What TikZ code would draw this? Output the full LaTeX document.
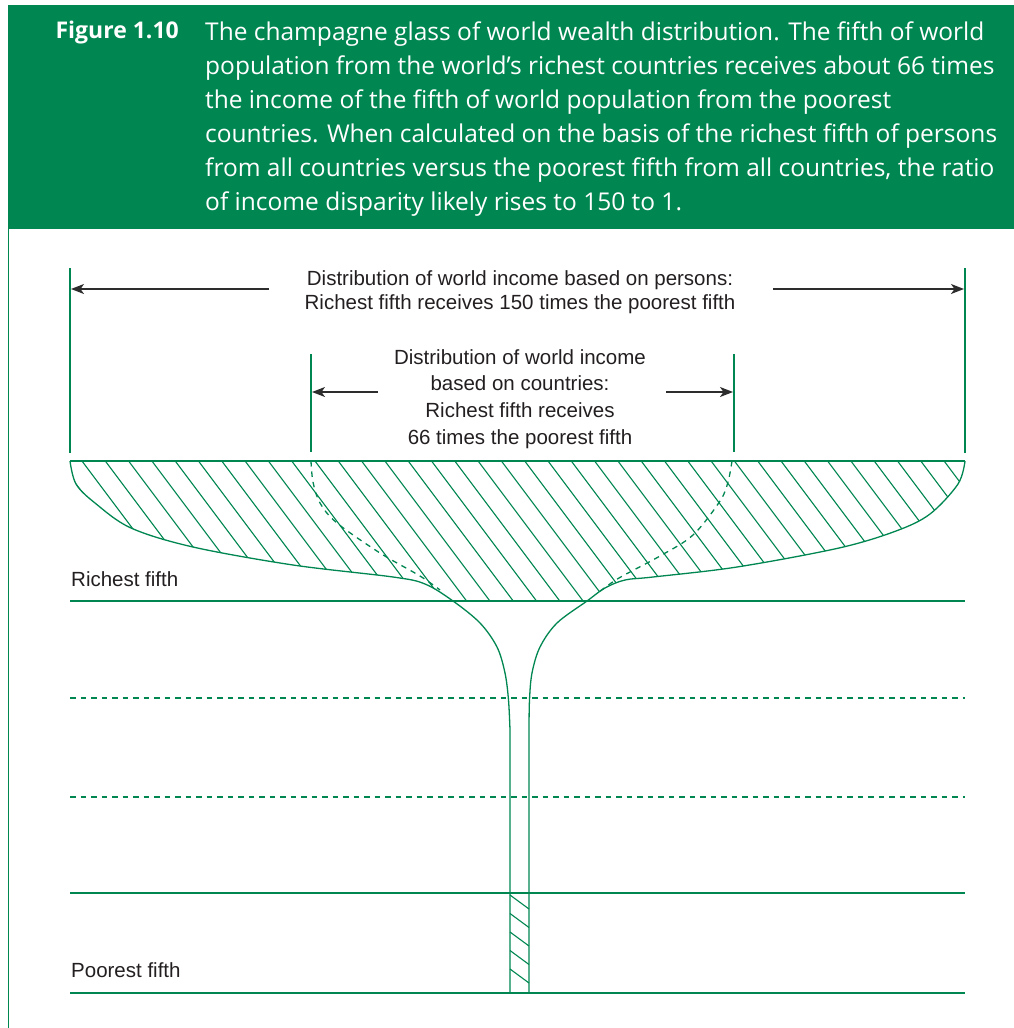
\documentclass[tikz,border=0pt]{standalone}
\usepackage{fontspec}
\setmainfont{Liberation Sans}
\newfontfamily\headfont{Open Sans}
\usetikzlibrary{arrows.meta}
\definecolor{fgreen}{RGB}{0,134,81}
\definecolor{txtgray}{RGB}{35,31,32}
\definecolor{arrgray}{RGB}{45,45,45}
\begin{document}
\begin{tikzpicture}[x=1pt,y=-1pt,
  gline/.style={draw=fgreen,line width=1.3pt},
  hatchline/.style={draw=fgreen,line width=1.1pt},
  dashline/.style={draw=fgreen,line width=1.3pt,dash pattern=on 5.5pt off 5pt},
  marker/.style={draw=fgreen,line width=1.3pt},
  dimarrow/.style={draw=arrgray,line width=1.4pt,-{Stealth[length=13pt,width=10pt,inset=3.5pt]}},
  lbl/.style={text=txtgray,font=\fontsize{20.5}{24}\selectfont,inner sep=0pt},
  headtxt/.style={text=white,inner sep=0pt,align=left}
]
\useasboundingbox (0,0) rectangle (1014,1028);
% header
\fill[fgreen] (8,5) rectangle (1014,229);
\draw[fgreen,line width=1.3pt] (8.6,229) -- (8.6,1028);
\node[headtxt,anchor=north east,font=\headfont\bfseries\fontsize{23}{34}\selectfont] (fignum) at (179,21) {Figure 1.10};
\node[headtxt,anchor=north west,font=\headfont\fontsize{24.5}{34}\selectfont] (caption) at (205,21.5)
 {The champagne glass of world wealth distribution. The fifth of world\\
  population from the world’s richest countries receives about 66 times\\
  the income of the fifth of world population from the poorest\\
  countries. When calculated on the basis of the richest fifth of persons\\
  from all countries versus the poorest fifth from all countries, the ratio\\
  of income disparity likely rises to 150 to 1.};
% hatching of the bowl
\begin{scope}
\clip (70,461) -- (965,461) -- plot[smooth,tension=0.55] coordinates {(965,461) (958,484) (930,514) (896,531) (839,548) (737,567) (653,577) (625,580) (605,588) (587,601)} -- (453,601) -- plot[smooth,tension=0.55] coordinates {(453,601) (425,584) (393,577) (293,565) (193,547) (131,528) (95,503) (76,484) (70,461)} -- cycle;
\foreach \i in {-8,...,42} {\draw[hatchline] ({82+23.3*\i},461) -- ++(150,200);}
\end{scope}
% stem hatching
\foreach \yy in {895,913.5,932,950.5,969} {\draw[hatchline] (510,\yy) -- (529,\yy+14);}
% horizontal lines
\coordinate (r1) at (70,601); \coordinate (r2) at (965,601);
\coordinate (d1) at (70,698); \coordinate (d2) at (965,698);
\coordinate (e1) at (70,797); \coordinate (e2) at (965,797);
\coordinate (p1) at (70,893); \coordinate (p2) at (965,893);
\coordinate (q1) at (70,993); \coordinate (q2) at (965,993);
\draw[gline] (r1) -- (r2);
\draw[dashline] (d1) -- (d2);
\draw[dashline] (e1) -- (e2);
\draw[gline] (p1) -- (p2);
\draw[gline] (q1) -- (q2);
% glass outline
\draw[gline] (70,461) -- (965,461);
\draw[gline] plot[smooth,tension=0.55] coordinates {(70,461) (76,484) (95,503) (131,528) (193,547) (293,565) (393,577) (425,584) (453,601) (480,623) (497,647) (505,673) (508.5,700) (510,730)} -- (510,993);
\draw[gline] plot[smooth,tension=0.55] coordinates {(965,461) (958,484) (930,514) (896,531) (839,548) (737,567) (653,577) (625,580) (605,588) (587,601) (557,623) (540,647) (532,673) (529.5,700) (529,730)} -- (529,993);
% dashed country curves
\draw[dashline] plot[smooth,tension=0.55] coordinates {(311,461) (313,482) (320,503) (337,523) (380,553) (420,576) (440,590)};
\draw[dashline] plot[smooth,tension=0.55] coordinates {(732,461) (728,482) (720,501) (693,535) (660,556) (619,578) (599,592)};
% marker verticals
\coordinate (oL1) at (70,268); \coordinate (oL2) at (70,453);
\coordinate (oR1) at (965,268); \coordinate (oR2) at (965,453);
\coordinate (iL1) at (311,354); \coordinate (iL2) at (311,452);
\coordinate (iR1) at (734,354); \coordinate (iR2) at (734,452);
\draw[marker] (oL1) -- (oL2);
\draw[marker] (oR1) -- (oR2);
\draw[marker] (iL1) -- (iL2);
\draw[marker] (iR1) -- (iR2);
% labels
\node[lbl,align=center] (persons) at (520,292) {Distribution of world income based on persons:\\Richest fifth receives 150 times the poorest fifth};
\node[lbl,align=center,font=\fontsize{20.5}{26.7}\selectfont] (countries) at (520,399) {Distribution of world income\\based on countries:\\Richest fifth receives\\66 times the poorest fifth};
\node[lbl,anchor=base west] (rich) at (71,586) {Richest fifth};
\node[lbl,anchor=base west] (poor) at (71,977) {Poorest fifth};
% arrows
\coordinate (a1) at (269,289); \coordinate (a1t) at (71,289);
\coordinate (a2) at (773,289); \coordinate (a2t) at (964,289);
\coordinate (b1) at (378,392); \coordinate (b1t) at (312,392);
\coordinate (b2) at (666,392); \coordinate (b2t) at (733,392);
\draw[dimarrow] (a1) -- (a1t);
\draw[dimarrow] (a2) -- (a2t);
\draw[dimarrow] (b1) -- (b1t);
\draw[dimarrow] (b2) -- (b2t);
\end{tikzpicture}
\end{document}
